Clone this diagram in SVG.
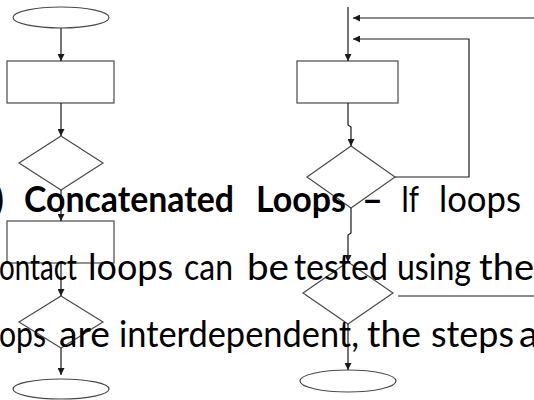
<svg xmlns="http://www.w3.org/2000/svg" width="534" height="400" viewBox="0 0 534 400">
  <style>
    .shape { fill: #ffffff; stroke: #4a4a4a; stroke-width: 1.2; }
    .link { fill: none; stroke: #1a1a1a; stroke-width: 1.2; }
    .txt { font-family: Lato, "Liberation Sans", sans-serif; font-size: 36px; fill: #000000; }
    .b { font-weight: bold; }
  </style>
  <defs>
    <marker id="arrow" viewBox="0 0 10 10" refX="10" refY="5" markerWidth="7" markerHeight="7" markerUnits="userSpaceOnUse" orient="auto">
      <path d="M0,0 L10,5 L0,10 Z" fill="#1a1a1a"/>
    </marker>
  </defs>
  <rect width="534" height="400" fill="#ffffff"/>

  <!-- left flow: two loops in sequence -->
  <g id="left-start"><ellipse class="shape" cx="61" cy="17.5" rx="48" ry="10.5"/></g>
  <g id="left-body1"><rect class="shape" x="7" y="61" width="107" height="42"/></g>
  <g id="left-test1"><polygon class="shape" points="61,136 103,163 61,190 19,163"/></g>
  <g id="left-body2"><rect class="shape" x="7" y="221" width="107" height="42"/></g>
  <g id="left-test2"><polygon class="shape" points="61,296 103,322 61,348 19,322"/></g>
  <g id="left-end"><ellipse class="shape" cx="61" cy="389" rx="48" ry="10"/></g>

  <!-- right flow: nested feedback loops -->
  <g id="right-body"><rect class="shape" x="297" y="61" width="101" height="42"/></g>
  <g id="right-test1"><polygon class="shape" points="351,146 395,177 351,208 307,177"/></g>
  <g id="right-test2"><polygon class="shape" points="348,262 393,293 348,324 303,293"/></g>
  <g id="right-end"><ellipse class="shape" cx="348" cy="381" rx="48" ry="11"/></g>

  <g id="connectors">
    <line class="link" x1="61" y1="28" x2="61" y2="61" marker-end="url(#arrow)"/>
    <line class="link" x1="61" y1="103" x2="61" y2="136" marker-end="url(#arrow)"/>
    <line class="link" x1="61" y1="190" x2="61" y2="221" marker-end="url(#arrow)"/>
    <line class="link" x1="61" y1="263" x2="61" y2="296" marker-end="url(#arrow)"/>
    <line class="link" x1="61" y1="348" x2="61" y2="375" marker-end="url(#arrow)"/>

    <line class="link" x1="348" y1="7" x2="348" y2="61" marker-end="url(#arrow)"/>
    <line class="link" x1="534" y1="18" x2="353" y2="18" marker-end="url(#arrow)"/>
    <polyline class="link" points="395,177 469,177 469,39 353,39" marker-end="url(#arrow)"/>
    <polyline class="link" points="348,103 348,125 351,127 351,146" marker-end="url(#arrow)"/>
    <polyline class="link" points="351,208 351,233 348,235 348,262" marker-end="url(#arrow)"/>
    <line class="link" x1="398" y1="296" x2="534" y2="296"/>
    <line class="link" x1="348" y1="324" x2="348" y2="370" marker-end="url(#arrow)"/>
  </g>

  <!-- paragraph text over the charts -->
  <g id="para">
    <text class="txt b" x="-6" y="212">)</text>
    <text class="txt b" x="24" y="212" textLength="210" lengthAdjust="spacingAndGlyphs">Concatenated</text>
    <text class="txt b" x="256" y="212" textLength="90" lengthAdjust="spacingAndGlyphs">Loops</text>
    <text class="txt b" x="362" y="212" textLength="21" lengthAdjust="spacingAndGlyphs">–</text>
    <text class="txt" x="401" y="212" textLength="18" lengthAdjust="spacingAndGlyphs">If</text>
    <text class="txt" x="439" y="212" textLength="82" lengthAdjust="spacingAndGlyphs">loops</text>

    <text class="txt" x="-1" y="280" textLength="78" lengthAdjust="spacingAndGlyphs">ontact</text>
    <text class="txt" x="88" y="280" textLength="85" lengthAdjust="spacingAndGlyphs">loops</text>
    <text class="txt" x="184" y="280" textLength="49" lengthAdjust="spacingAndGlyphs">can</text>
    <text class="txt" x="247" y="280" textLength="42" lengthAdjust="spacingAndGlyphs">be</text>
    <text class="txt" x="294" y="280" textLength="94" lengthAdjust="spacingAndGlyphs">tested</text>
    <text class="txt" x="397" y="280" textLength="74" lengthAdjust="spacingAndGlyphs">using</text>
    <text class="txt" x="479" y="280" textLength="55" lengthAdjust="spacingAndGlyphs">the</text>

    <text class="txt" x="-1" y="347" textLength="47" lengthAdjust="spacingAndGlyphs">ops</text>
    <text class="txt" x="59" y="347" textLength="51" lengthAdjust="spacingAndGlyphs">are</text>
    <text class="txt" x="119" y="347" textLength="240" lengthAdjust="spacingAndGlyphs">interdependent,</text>
    <text class="txt" x="367" y="347" textLength="54" lengthAdjust="spacingAndGlyphs">the</text>
    <text class="txt" x="431" y="347" textLength="83" lengthAdjust="spacingAndGlyphs">steps</text>
    <text class="txt" x="519" y="347" textLength="19" lengthAdjust="spacingAndGlyphs">a</text>
  </g>
</svg>
